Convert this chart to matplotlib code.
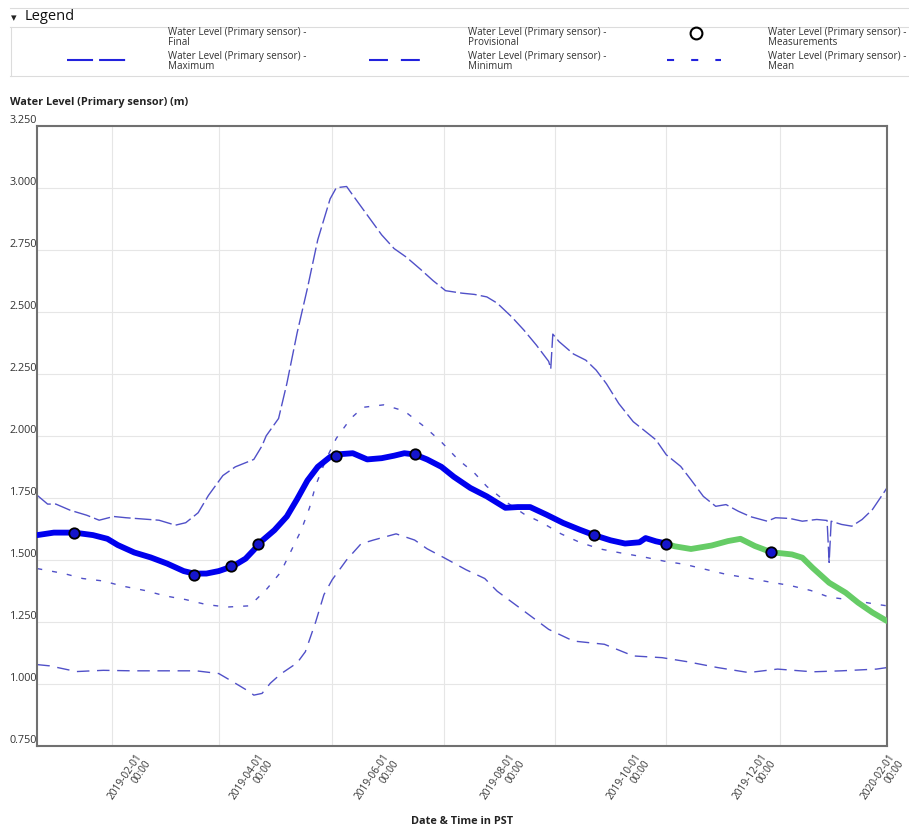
import numpy as np
import matplotlib.pyplot as plt
import matplotlib.dates as mdates
from matplotlib import transforms

plt.rcParams['font.family'] = ['Open Sans', 'DejaVu Sans']

# ---- data ----
max_dates = ['2018-12-11', '2018-12-16', '2018-12-20', '2018-12-27', '2019-01-04', '2019-01-10',
             '2019-01-17', '2019-01-23', '2019-01-31', '2019-02-08', '2019-02-16', '2019-02-21',
             '2019-02-27', '2019-03-04', '2019-03-11', '2019-03-17', '2019-03-26', '2019-03-30',
             '2019-04-01', '2019-04-07', '2019-04-11', '2019-04-16', '2019-04-21', '2019-04-26',
             '2019-05-02', '2019-05-05', '2019-05-10', '2019-05-13', '2019-05-20', '2019-05-27',
             '2019-06-02', '2019-06-08', '2019-06-15', '2019-06-21', '2019-06-27', '2019-07-05',
             '2019-07-11', '2019-07-17', '2019-07-22', '2019-07-29', '2019-08-04', '2019-08-10',
             '2019-08-16', '2019-08-17', '2019-08-18', '2019-08-21', '2019-08-28', '2019-09-03',
             '2019-09-08', '2019-09-13', '2019-09-19', '2019-09-26', '2019-10-01', '2019-10-07',
             '2019-10-12', '2019-10-19', '2019-10-24', '2019-10-30', '2019-11-05', '2019-11-10',
             '2019-11-16', '2019-11-22', '2019-11-30', '2019-12-04', '2019-12-11', '2019-12-17',
             '2019-12-24', '2019-12-29', '2019-12-30', '2019-12-31', '2020-01-05', '2020-01-10',
             '2020-01-15', '2020-01-20', '2020-01-26', '2020-01-27']
max_vals = [1.76, 1.725, 1.725, 1.70, 1.68, 1.66,
            1.675, 1.67, 1.665, 1.66, 1.64, 1.65,
            1.69, 1.76, 1.84, 1.875, 1.905, 1.96,
            2.00, 2.07, 2.21, 2.415, 2.595, 2.79,
            2.955, 3.00, 3.005, 2.97, 2.89, 2.81,
            2.755, 2.72, 2.67, 2.625, 2.585, 2.575,
            2.57, 2.56, 2.535, 2.48, 2.426, 2.366,
            2.30, 2.27, 2.41, 2.38, 2.33, 2.305,
            2.265, 2.21, 2.13, 2.057, 2.024, 1.984,
            1.924, 1.877, 1.823, 1.756, 1.716, 1.723,
            1.696, 1.674, 1.656, 1.67, 1.667, 1.656,
            1.663, 1.659, 1.49, 1.656, 1.643, 1.636,
            1.663, 1.703, 1.777, 1.79]

min_dates = ['2018-12-11', '2018-12-17', '2018-12-30', '2019-01-12', '2019-01-26', '2019-02-10',
             '2019-02-26', '2019-03-09', '2019-03-16', '2019-03-24', '2019-03-26', '2019-03-30',
             '2019-04-03', '2019-04-08', '2019-04-16', '2019-04-20', '2019-04-25', '2019-04-29',
             '2019-05-03', '2019-05-10', '2019-05-17', '2019-05-23', '2019-06-03', '2019-06-12',
             '2019-06-18', '2019-06-26', '2019-07-07', '2019-07-16', '2019-07-22', '2019-08-04',
             '2019-08-16', '2019-08-28', '2019-09-12', '2019-09-26', '2019-10-10', '2019-10-22',
             '2019-11-06', '2019-11-21', '2019-12-05', '2019-12-22', '2020-01-05', '2020-01-22',
             '2020-01-27']
min_vals = [1.078, 1.073, 1.05, 1.055, 1.053, 1.053,
            1.053, 1.042, 1.008, 0.968, 0.955, 0.962,
            1.003, 1.04, 1.085, 1.13, 1.25, 1.36,
            1.42, 1.50, 1.565, 1.58, 1.605, 1.58,
            1.545, 1.51, 1.46, 1.425, 1.374, 1.294,
            1.22, 1.173, 1.16, 1.113, 1.106, 1.09,
            1.066, 1.046, 1.06, 1.049, 1.053, 1.06,
            1.066]

mean_dates = ['2018-12-11', '2018-12-24', '2019-01-02', '2019-01-12', '2019-01-21', '2019-02-01',
              '2019-02-11', '2019-02-21', '2019-03-03', '2019-03-13', '2019-03-24', '2019-04-01',
              '2019-04-08', '2019-04-13', '2019-04-18', '2019-04-22', '2019-04-25', '2019-04-30',
              '2019-05-05', '2019-05-12', '2019-05-18', '2019-05-28', '2019-06-07', '2019-06-17',
              '2019-06-25', '2019-07-03', '2019-07-11', '2019-07-17', '2019-07-27', '2019-08-04',
              '2019-08-13', '2019-08-22', '2019-08-31', '2019-09-10', '2019-09-20', '2019-10-01',
              '2019-10-11', '2019-10-21', '2019-10-31', '2019-11-10', '2019-11-20', '2019-12-01',
              '2019-12-11', '2019-12-21', '2019-12-30', '2020-01-10', '2020-01-22', '2020-01-27']
mean_vals = [1.465, 1.445, 1.425, 1.415, 1.395, 1.377,
             1.355, 1.34, 1.32, 1.31, 1.315, 1.38,
             1.45, 1.535, 1.62, 1.71, 1.80, 1.905,
             1.99, 2.07, 2.115, 2.125, 2.10, 2.035,
             1.975, 1.905, 1.85, 1.796, 1.73, 1.685,
             1.649, 1.605, 1.571, 1.544, 1.528, 1.512,
             1.495, 1.482, 1.462, 1.442, 1.428, 1.411,
             1.397, 1.377, 1.35, 1.338, 1.321, 1.315]

final_dates = ['2018-12-11', '2018-12-19', '2018-12-29', '2019-01-07', '2019-01-14', '2019-01-19',
               '2019-01-27', '2019-02-04', '2019-02-12', '2019-02-20', '2019-02-25', '2019-03-03',
               '2019-03-09', '2019-03-16', '2019-03-22', '2019-03-26', '2019-03-29', '2019-04-05',
               '2019-04-11', '2019-04-16', '2019-04-21', '2019-04-26', '2019-05-02', '2019-05-05',
               '2019-05-13', '2019-05-20', '2019-05-27', '2019-06-02', '2019-06-07', '2019-06-12',
               '2019-06-18', '2019-06-25', '2019-07-01', '2019-07-09', '2019-07-17', '2019-07-26',
               '2019-08-01', '2019-08-07', '2019-08-15', '2019-08-23', '2019-08-31', '2019-09-07',
               '2019-09-15', '2019-09-22', '2019-09-29', '2019-10-02', '2019-10-07', '2019-10-12']
final_vals = [1.60, 1.61, 1.61, 1.60, 1.585, 1.56,
              1.53, 1.51, 1.485, 1.455, 1.445, 1.445,
              1.455, 1.475, 1.505, 1.54, 1.57, 1.62,
              1.675, 1.745, 1.82, 1.875, 1.915, 1.925,
              1.93, 1.905, 1.91, 1.92, 1.93, 1.925,
              1.905, 1.875, 1.835, 1.79, 1.756, 1.71,
              1.713, 1.713, 1.682, 1.649, 1.622, 1.60,
              1.579, 1.566, 1.571, 1.588, 1.575, 1.566]

prov_dates = ['2019-10-12', '2019-10-16', '2019-10-24', '2019-11-03', '2019-11-11', '2019-11-17',
              '2019-11-24', '2019-12-02', '2019-12-12', '2019-12-17', '2019-12-22', '2019-12-30',
              '2020-01-07', '2020-01-13', '2020-01-20', '2020-01-27']
prov_vals = [1.566, 1.555, 1.544, 1.558, 1.576, 1.585,
             1.556, 1.531, 1.522, 1.509, 1.468, 1.408,
             1.368, 1.328, 1.288, 1.254]

meas_dates = ['2018-12-29', '2019-02-25', '2019-03-15', '2019-03-28', '2019-05-05', '2019-06-12',
              '2019-09-07', '2019-10-12', '2019-12-02']
meas_vals = [1.61, 1.44, 1.477, 1.565, 1.92, 1.925, 1.602, 1.566, 1.531]

tick_dates = ['2019-02-01', '2019-04-01', '2019-06-01', '2019-08-01', '2019-10-01', '2019-12-01',
              '2020-02-01']
grid_dates = ['2019-01-16', '2019-03-09', '2019-05-03', '2019-06-26', '2019-08-19', '2019-10-12',
              '2019-12-06']
y_ticks = [0.75, 1.0, 1.25, 1.5, 1.75, 2.0, 2.25, 2.5, 2.75, 3.0, 3.25]


def to_num(lst):
    return mdates.date2num(np.array(lst, dtype='datetime64[h]'))


W, H = 909, 832
fig = plt.figure(figsize=(W / 100, H / 100), dpi=100)

# pixel-space layer for legend block and titles
lay = fig.add_axes([0, 0, 1, 1], zorder=0)
lay.set_xlim(0, W)
lay.set_ylim(H, 0)
lay.axis('off')

line_c = '#dcdcdc'
lay.plot([10, W], [8, 8], color=line_c, lw=0.8)
lay.plot([10, W], [27, 27], color=line_c, lw=0.8)
lay.plot([10, W], [76, 76], color=line_c, lw=0.8)
lay.plot([11, 11], [27, 76], color=line_c, lw=0.8)
lay.text(11, 18, '\u25be', fontsize=8, va='center', family=['DejaVu Sans'], color='#222222')
lay.text(25, 17, 'Legend', fontsize=10.5, va='center', color='#111111')

leg_txt = dict(fontsize=7.1, va='top', color='#333333', linespacing=0.92)
lay.text(168, 26.5, 'Water Level (Primary sensor) -\nFinal', **leg_txt)
lay.text(468, 26.5, 'Water Level (Primary sensor) -\nProvisional', **leg_txt)
lay.text(768, 26.5, 'Water Level (Primary sensor) -\nMeasurements', **leg_txt)
lay.text(168, 51, 'Water Level (Primary sensor) -\nMaximum', **leg_txt)
lay.text(468, 51, 'Water Level (Primary sensor) -\nMinimum', **leg_txt)
lay.text(768, 51, 'Water Level (Primary sensor) -\nMean', **leg_txt)

hcol = '#2222dd'
lay.plot([67, 126], [60, 60], color=hcol, lw=1.5, dashes=(12.5, 2.9))
lay.plot([369, 421], [60, 60], color=hcol, lw=1.5, dashes=(9.1, 6.2))
lay.plot([667, 721], [60, 60], color=hcol, lw=1.5, dashes=(3.4, 8.2))
lay.plot([696], [33], 'o', ms=8.5, mfc='white', mec='black', mew=1.5)

lay.text(10, 103, 'Water Level (Primary sensor) (m)', fontsize=7.8, weight='bold',
         va='center', color='#222222')
lay.text(462, 822, 'Date & Time in PST', fontsize=7.8, weight='bold',
         ha='center', va='center', color='#222222')

# ---- main chart ----
ax = fig.add_axes([37.3 / W, 1 - 746 / H, 850 / W, (746 - 125.7) / H], zorder=1)
x0 = mdates.date2num(np.datetime64('2018-12-11T00', 'h'))
x1 = mdates.date2num(np.datetime64('2020-01-27T05', 'h'))
ax.set_xlim(x0, x1)
ax.set_ylim(0.75, 3.25)

ax.set_yticks(y_ticks)
ax.set_yticklabels(['%.3f' % v for v in y_ticks])
ax.tick_params(axis='y', length=0, pad=0, labelsize=7.8, labelcolor='#333333')
for lab in ax.get_yticklabels():
    lab.set_verticalalignment('bottom')
ax.grid(axis='y', color='#e6e6e6', lw=0.8)
for g in to_num(grid_dates):
    ax.axvline(g, color='#e6e6e6', lw=0.8, zorder=0)
ax.set_xticks([])
for s in ax.spines.values():
    s.set_color('#707070')
    s.set_linewidth(1.5)

dash_c = '#5050c8'
ax.plot(to_num(max_dates), max_vals, color=dash_c, lw=1.0, dashes=(12, 3))
ax.plot(to_num(min_dates), min_vals, color=dash_c, lw=1.0, dashes=(9, 5.5))
ax.plot(to_num(mean_dates), mean_vals, color=dash_c, lw=1.0, dashes=(3.6, 7.2))
ax.plot(to_num(final_dates), final_vals, color='#0000ee', lw=4.2,
        solid_capstyle='round', solid_joinstyle='round', zorder=3)
ax.plot(to_num(prov_dates), prov_vals, color='#66cc66', lw=4.2,
        solid_capstyle='round', solid_joinstyle='round', zorder=3)
ax.plot(to_num(meas_dates), meas_vals, 'o', ms=7.5, mfc='#1515cc', mec='black',
        mew=1.3, zorder=5)

# rotated date labels below the axis
trans = transforms.blended_transform_factory(ax.transData, ax.transAxes)
trans = transforms.offset_copy(trans, fig=fig, x=0, y=-12, units='dots')
for td, xv in zip(tick_dates, to_num(tick_dates)):
    ax.text(xv, 0, td + '\n00:00', transform=trans, rotation=56, rotation_mode='anchor',
            ha='right', va='center', fontsize=7.3, color='#333333', clip_on=False,
            linespacing=1.0)

fig.savefig('out.png', dpi=100)
